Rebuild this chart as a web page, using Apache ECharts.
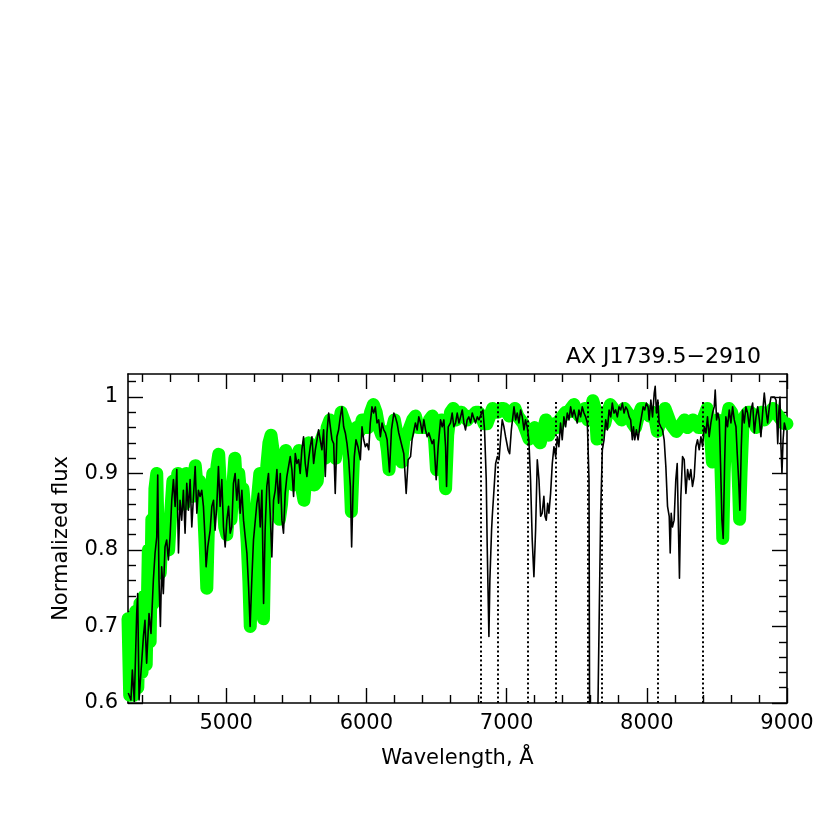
<!DOCTYPE html>
<html>
<head>
<meta charset="utf-8">
<script src="https://cdn.jsdelivr.net/npm/echarts@6/dist/echarts.min.js"></script>
<style>html,body{margin:0;padding:0;background:#fff}#c{width:830px;height:830px}</style>
</head>
<body>
<div id="c"></div>
<script>
// Observed spectrum (black)
const obsWave = [4302,4321,4331,4345,4362,4369,4379,4393,4410,4421,4433,4450,4464,4481,4493,4505,4512,4521,4531,4540,4552,4564,4576,4588,4600,4612,4624,4636,4648,4660,4671,4683,4695,4707,4719,4731,4743,4755,4767,4779,4791,4802,4814,4826,4838,4850,4857,4869,4886,4898,4910,4921,4933,4945,4957,4969,4981,4993,5005,5017,5029,5040,5052,5064,5076,5088,5100,5112,5124,5136,5148,5160,5171,5183,5195,5207,5219,5231,5243,5255,5267,5278,5290,5302,5314,5326,5338,5350,5362,5374,5386,5398,5409,5421,5433,5445,5457,5469,5481,5493,5505,5517,5528,5540,5552,5564,5576,5588,5600,5612,5624,5636,5648,5659,5671,5683,5695,5707,5719,5731,5743,5755,5767,5778,5790,5802,5814,5826,5838,5850,5862,5874,5886,5895,5905,5914,5926,5940,5957,5969,5981,5993,6005,6017,6028,6040,6052,6064,6076,6088,6100,6112,6124,6136,6148,6165,6179,6196,6207,6219,6231,6255,6267,6284,6298,6315,6326,6350,6362,6374,6386,6398,6410,6422,6434,6446,6469,6481,6498,6512,6529,6541,6553,6565,6572,6584,6600,6612,6624,6636,6648,6660,6672,6684,6696,6707,6719,6731,6743,6755,6767,6779,6791,6803,6822,6831,6843,6855,6862,6874,6881,6893,6898,6910,6922,6934,6946,6957,6969,6981,6993,7012,7022,7034,7053,7065,7076,7088,7100,7112,7124,7135,7147,7159,7171,7183,7195,7207,7219,7231,7243,7254,7266,7274,7283,7293,7302,7314,7326,7338,7350,7362,7373,7385,7397,7409,7421,7433,7445,7457,7469,7481,7493,7504,7516,7528,7540,7552,7564,7576,7588,7596,7629,7671,7683,7695,7707,7719,7731,7743,7754,7766,7778,7790,7802,7814,7826,7838,7850,7862,7874,7885,7897,7905,7914,7926,7938,7950,7962,7974,7985,7997,8009,8017,8029,8041,8053,8060,8069,8079,8088,8100,8112,8124,8136,8148,8160,8167,8174,8183,8195,8207,8217,8226,8233,8243,8255,8267,8279,8291,8303,8314,8326,8338,8350,8362,8374,8386,8398,8410,8422,8433,8445,8457,8469,8481,8488,8498,8507,8517,8526,8536,8545,8555,8564,8576,8588,8600,8612,8624,8636,8645,8655,8664,8674,8683,8695,8707,8719,8731,8743,8755,8767,8779,8791,8803,8814,8826,8838,8850,8862,8874,8886,8898,8910,8922,8934,8941,8950,8957,8964,8972,8981,8993];
const obsFlux = [0.613,0.604,0.643,0.602,0.717,0.743,0.604,0.602,0.687,0.708,0.652,0.717,0.691,0.761,0.796,0.817,0.898,0.761,0.700,0.778,0.743,0.804,0.813,0.787,0.817,0.865,0.892,0.857,0.905,0.796,0.865,0.839,0.878,0.822,0.887,0.852,0.892,0.830,0.870,0.909,0.848,0.878,0.870,0.878,0.857,0.813,0.778,0.804,0.826,0.857,0.865,0.826,0.857,0.909,0.857,0.892,0.830,0.804,0.839,0.857,0.822,0.830,0.887,0.900,0.865,0.892,0.848,0.878,0.839,0.817,0.796,0.752,0.700,0.761,0.813,0.813,0.861,0.874,0.830,0.878,0.730,0.826,0.883,0.900,0.848,0.791,0.865,0.878,0.905,0.861,0.900,0.839,0.822,0.874,0.896,0.909,0.922,0.905,0.870,0.926,0.913,0.918,0.900,0.931,0.948,0.913,0.896,0.918,0.935,0.948,0.913,0.931,0.944,0.957,0.944,0.931,0.957,0.896,0.953,0.979,0.961,0.944,0.939,0.874,0.948,0.957,0.974,0.987,0.961,0.953,0.939,0.918,0.883,0.804,0.878,0.922,0.944,0.935,0.918,0.961,0.944,0.935,0.939,0.931,0.966,0.987,0.979,0.987,0.966,0.970,0.948,0.966,0.957,0.953,0.944,0.902,0.957,0.979,0.974,0.966,0.953,0.935,0.926,0.874,0.918,0.922,0.944,0.966,0.957,0.974,0.966,0.953,0.970,0.957,0.948,0.953,0.939,0.944,0.892,0.935,0.970,0.961,0.970,0.935,0.883,0.961,0.966,0.979,0.961,0.966,0.979,0.966,0.974,0.983,0.966,0.957,0.970,0.974,0.966,0.979,0.972,0.966,0.974,0.970,0.979,0.983,0.957,0.892,0.804,0.687,0.761,0.826,0.844,0.878,0.913,0.922,0.918,0.944,0.970,0.961,0.948,0.930,0.926,0.957,0.987,0.970,0.979,0.966,0.983,0.974,0.957,0.970,0.961,0.944,0.892,0.813,0.765,0.826,0.918,0.892,0.844,0.848,0.870,0.844,0.839,0.861,0.848,0.874,0.913,0.935,0.922,0.948,0.935,0.966,0.944,0.974,0.961,0.979,0.970,0.987,0.974,0.983,0.974,0.966,0.983,0.974,0.987,0.979,0.974,0.966,0.892,0.300,0.300,0.848,0.931,0.944,0.970,0.957,0.983,0.974,0.992,0.979,0.983,0.974,0.987,0.983,0.992,0.979,0.987,0.983,0.974,0.970,0.944,0.961,0.944,0.957,0.944,0.961,0.974,0.987,0.983,0.992,0.987,0.970,0.996,0.974,1.005,1.014,0.979,0.996,0.966,0.961,0.957,0.944,0.909,0.857,0.844,0.796,0.848,0.830,0.839,0.892,0.913,0.826,0.763,0.870,0.922,0.918,0.874,0.905,0.892,0.905,0.883,0.896,0.935,0.944,0.931,0.948,0.935,0.961,0.953,0.974,0.948,0.966,0.979,0.987,1.009,0.970,0.979,0.970,0.913,0.839,0.815,0.913,0.974,0.961,0.983,0.966,0.987,0.970,0.961,0.926,0.892,0.852,0.935,0.983,0.966,0.987,0.979,0.961,0.983,0.992,0.953,0.974,0.987,0.970,0.948,0.979,1.005,0.983,0.966,0.987,1.000,1.000,1.000,0.996,0.939,0.979,1.000,0.935,0.900,0.944,0.966,0.957];

// Template spectrum (green)
const tplWave = [4300,4312,4325,4340,4355,4370,4385,4400,4415,4430,4445,4458,4470,4480,4492,4505,4515,4530,4545,4560,4575,4590,4605,4620,4640,4655,4670,4685,4700,4715,4730,4745,4760,4780,4795,4810,4825,4840,4852,4862,4872,4890,4905,4920,4935,4947,4960,4975,4990,5005,5020,5035,5050,5062,5075,5090,5105,5120,5135,5150,5162,5172,5182,5195,5210,5225,5240,5250,5260,5266,5275,5290,5305,5320,5335,5350,5365,5380,5395,5410,5425,5440,5460,5480,5500,5520,5540,5555,5570,5590,5610,5630,5650,5670,5690,5705,5720,5740,5760,5780,5800,5820,5840,5860,5878,5893,5908,5930,5950,5970,5990,6010,6030,6050,6070,6090,6110,6130,6150,6162,6180,6200,6220,6240,6252,6270,6290,6310,6330,6350,6370,6390,6410,6430,6450,6470,6488,6500,6515,6535,6552,6565,6580,6600,6620,6640,6660,6680,6700,6720,6740,6760,6780,6800,6820,6840,6860,6880,6900,6920,6940,6960,6980,7000,7020,7040,7060,7080,7100,7120,7140,7160,7180,7200,7220,7240,7260,7280,7300,7320,7340,7360,7380,7400,7420,7440,7460,7480,7500,7520,7540,7560,7580,7600,7615,7632,7645,7660,7680,7700,7720,7740,7760,7780,7800,7820,7840,7860,7880,7900,7920,7940,7960,7980,8000,8020,8040,8060,8075,8090,8110,8130,8150,8170,8190,8210,8230,8250,8270,8290,8310,8330,8350,8370,8390,8410,8430,8450,8468,8485,8505,8522,8535,8542,8552,8565,8585,8605,8625,8645,8655,8662,8672,8685,8700,8720,8740,8760,8780,8800,8820,8840,8860,8880,8900,8920,8940,8960,8980,9000];
const tplFlux = [0.71,0.61,0.70,0.61,0.72,0.62,0.73,0.64,0.74,0.65,0.80,0.68,0.84,0.73,0.88,0.90,0.82,0.77,0.83,0.80,0.84,0.80,0.85,0.89,0.87,0.90,0.86,0.89,0.86,0.90,0.87,0.89,0.87,0.91,0.88,0.89,0.87,0.85,0.80,0.75,0.82,0.87,0.90,0.88,0.91,0.925,0.88,0.87,0.83,0.82,0.86,0.84,0.89,0.92,0.88,0.90,0.87,0.88,0.85,0.81,0.76,0.70,0.76,0.83,0.82,0.87,0.90,0.85,0.76,0.71,0.80,0.91,0.94,0.95,0.93,0.90,0.88,0.84,0.86,0.90,0.93,0.92,0.90,0.885,0.92,0.93,0.88,0.865,0.90,0.94,0.91,0.885,0.89,0.94,0.95,0.92,0.96,0.97,0.96,0.92,0.96,0.98,0.97,0.96,0.92,0.85,0.92,0.96,0.955,0.97,0.96,0.96,0.98,0.99,0.98,0.96,0.95,0.955,0.93,0.905,0.955,0.97,0.95,0.93,0.915,0.95,0.95,0.96,0.97,0.975,0.96,0.96,0.96,0.96,0.97,0.975,0.94,0.905,0.95,0.97,0.93,0.88,0.95,0.98,0.985,0.97,0.98,0.98,0.975,0.97,0.975,0.975,0.98,0.98,0.975,0.965,0.965,0.975,0.985,0.98,0.98,0.985,0.985,0.98,0.975,0.98,0.985,0.975,0.97,0.965,0.955,0.945,0.95,0.96,0.945,0.94,0.955,0.97,0.95,0.96,0.965,0.96,0.97,0.975,0.98,0.98,0.985,0.99,0.98,0.975,0.98,0.985,0.97,0.975,0.995,0.985,0.945,0.96,0.97,0.965,0.98,0.99,0.985,0.98,0.975,0.97,0.985,0.98,0.975,0.965,0.96,0.975,0.985,0.985,0.98,0.975,0.98,0.97,0.955,0.965,0.975,0.985,0.975,0.965,0.96,0.955,0.96,0.965,0.97,0.96,0.965,0.97,0.965,0.96,0.96,0.975,0.985,0.96,0.915,0.95,0.97,0.95,0.87,0.815,0.90,0.965,0.985,0.98,0.965,0.93,0.88,0.84,0.90,0.96,0.975,0.98,0.98,0.975,0.96,0.975,0.98,0.97,0.975,0.98,0.985,0.98,0.975,0.97,0.965,0.965];

// Telluric band markers (dotted verticals)
const telluricWave = [6815,6940,7150,7350,7580,7680,8080,8400];
const telluricLow = 0.6;
const telluricHigh = 0.995;

// Axis ticks
const xMajorTicks = [5000,6000,7000,8000,9000];
const xMinorTicks = [4400,4600,4800,5200,5400,5600,5800,6200,6400,6600,6800,7200,7400,7600,7800,8200,8400,8600,8800];
const yMajorTicks = [0.6,0.7,0.8,0.9,1.0];
const yMinorTicks = [0.62,0.64,0.66,0.68,0.72,0.74,0.76,0.78,0.82,0.84,0.86,0.88,0.92,0.94,0.96,0.98,1.02];

const titleText = 'AX J1739.5\u22122910';
const xName = 'Wavelength, \u00C5';
const yName = 'Normalized flux';

const FONT = 'DejaVu Sans';
const obsData = obsWave.map((w, i) => [w, obsFlux[i]]);
const tplData = tplWave.map((w, i) => [w, tplFlux[i]]);
const markData = telluricWave.map(w => [{coord: [w, telluricLow]}, {coord: [w, telluricHigh]}]);

const XMIN = 4300, XMAX = 9000, YMIN = 0.6, YMAX = 1.03;
const axisLineStyle = {show: true, lineStyle: {color: '#000', width: 1.6}};
function xAx(pos, ticks, len, labels, line) {
  return {
    type: 'value', position: pos, min: XMIN, max: XMAX,
    axisLine: line ? axisLineStyle : {show: false},
    axisTick: {show: true, inside: true, length: len, customValues: ticks, lineStyle: {color: '#000', width: 1.4}},
    axisLabel: labels ? {show: true, customValues: ticks, color: '#000', fontFamily: FONT, fontSize: 21, margin: 10,
      formatter: v => String(Math.round(v))} : {show: false},
    splitLine: {show: false}
  };
}
function yAx(pos, ticks, len, labels, line) {
  return {
    type: 'value', position: pos, min: YMIN, max: YMAX,
    axisLine: line ? axisLineStyle : {show: false},
    axisTick: {show: true, inside: true, length: len, customValues: ticks, lineStyle: {color: '#000', width: 1.4}},
    axisLabel: labels ? {show: true, customValues: ticks, color: '#000', fontFamily: FONT, fontSize: 21, margin: 10,
      formatter: v => (Math.abs(v - 1) < 1e-9 ? '1' : v.toFixed(1))} : {show: false},
    splitLine: {show: false}
  };
}
const xAxes = [
  xAx('bottom', xMajorTicks, 15, true, true),
  xAx('bottom', xMinorTicks, 8, false, false),
  xAx('top', xMajorTicks, 15, false, true),
  xAx('top', xMinorTicks, 8, false, false)
];
Object.assign(xAxes[0], {name: xName, nameLocation: 'middle', nameGap: 45,
  nameTextStyle: {color: '#000', fontFamily: FONT, fontSize: 21}});
const yAxes = [
  yAx('left', yMajorTicks, 15, true, true),
  yAx('left', yMinorTicks, 8, false, false),
  yAx('right', yMajorTicks, 15, false, true),
  yAx('right', yMinorTicks, 8, false, false)
];
Object.assign(yAxes[0], {name: yName, nameLocation: 'middle', nameGap: 56, nameRotate: 90,
  nameTextStyle: {color: '#000', fontFamily: FONT, fontSize: 21}});

const chart = echarts.init(document.getElementById('c'), null, {renderer: 'canvas'});
chart.setOption({
  animation: false,
  backgroundColor: '#fff',
  title: {text: titleText, right: 64, top: 341,
    textStyle: {color: '#000', fontFamily: FONT, fontSize: 22, fontWeight: 'normal'}},
  grid: {left: 128, top: 374, width: 659, height: 329, containLabel: false},
  xAxis: xAxes,
  yAxis: yAxes,
  series: [
    {type: 'line', data: tplData, showSymbol: false, clip: true, z: 2,
      lineStyle: {color: '#00ff00', width: 13, cap: 'round', join: 'round'}},
    {type: 'line', data: obsData, showSymbol: false, clip: true, z: 3,
      lineStyle: {color: '#000', width: 1.6, join: 'round'},
      markLine: {silent: true, symbol: ['none', 'none'], label: {show: false},
        lineStyle: {color: '#000', width: 2, type: [2, 2.6]},
        data: markData}}
  ]
});
</script>
</body>
</html>
